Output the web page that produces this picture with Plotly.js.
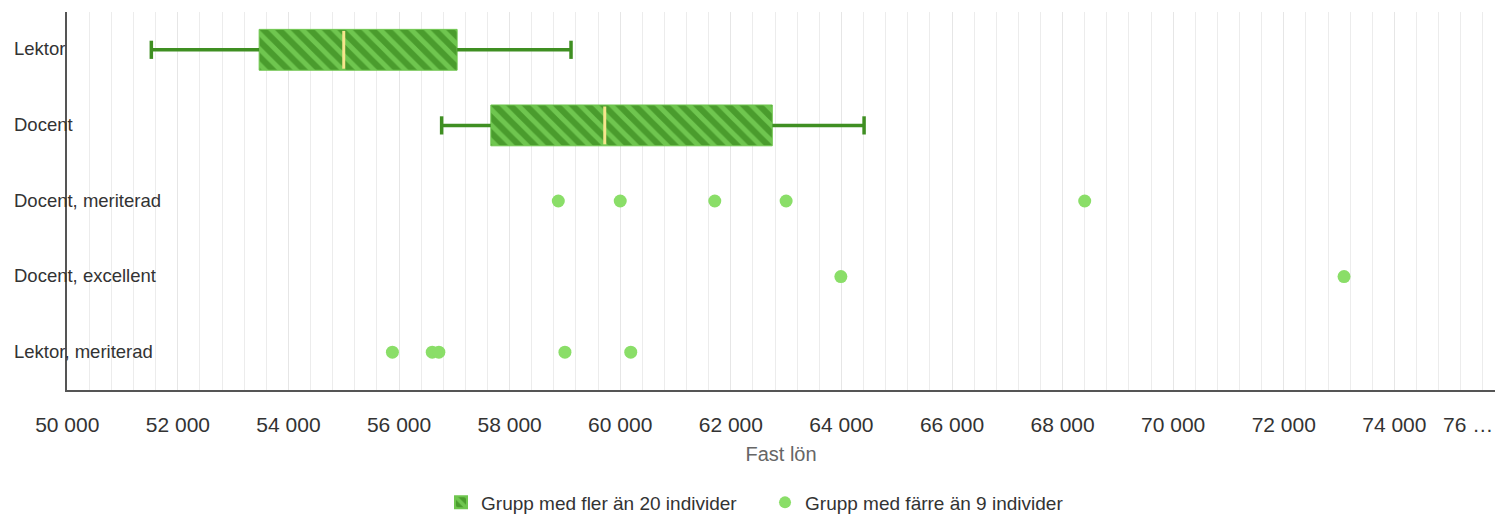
<!DOCTYPE html>
<html>
<head>
<meta charset="utf-8">
<script src="https://cdn.plot.ly/plotly-3.0.1.min.js"></script>
<style>html,body{margin:0;padding:0;background:#fff;}#chart{width:1495px;height:517px;}</style>
</head>
<body>
<div id="chart"></div>
<script>
// Categories (top to bottom)
const categories = ['Lektor', 'Docent', 'Docent, meriterad', 'Docent, excellent', 'Lektor, meriterad'];

// Box groups (more than 20 individuals)
const boxCategories = ['Lektor', 'Docent'];
const boxLow    = [51520, 56770];
const boxQ1     = [53470, 57660];
const boxMedian = [55000, 59720];
const boxQ3     = [57050, 62750];
const boxHigh   = [59110, 64410];

// Individual points (fewer than 9 individuals)
const docentMeriterad  = [58880, 60000, 61710, 63000, 68400];
const docentExcellent  = [63990, 73090];
const lektorMeriterad  = [55880, 56600, 56720, 59000, 60190];

// X-axis ticks
const tickValues = [50000, 52000, 54000, 56000, 58000, 60000, 62000, 64000, 66000, 68000, 70000, 72000, 74000];
const tickLabels = ['50 000', '52 000', '54 000', '56 000', '58 000', '60 000', '62 000', '64 000', '66 000', '68 000', '70 000', '72 000', '74 000'];
const lastTickLabel = '76 …';

const darkGreen = '#4a9c2d';
const lightGreen = '#6fc64f';
const whiskerGreen = '#3f8f22';
const medianYellow = '#f6e58d';
const pointGreen = '#8ade68';

// whisker segments built from data
const wx = [], wy = [];
boxCategories.forEach((c, i) => {
  wx.push(boxLow[i], boxQ1[i], null, boxQ3[i], boxHigh[i], null);
  wy.push(c, c, null, c, c, null);
});

const pointsX = [].concat(docentMeriterad, docentExcellent, lektorMeriterad);
const pointsY = [].concat(
  docentMeriterad.map(() => 'Docent, meriterad'),
  docentExcellent.map(() => 'Docent, excellent'),
  lektorMeriterad.map(() => 'Lektor, meriterad')
);

const traces = [
  {
    type: 'bar', orientation: 'h', name: 'Grupp med fler än 20 individer',
    y: boxCategories, base: boxQ1, x: boxQ3.map((v, i) => v - boxQ1[i]),
    width: 0.54,
    marker: {
      color: darkGreen,
      line: {color: lightGreen, width: 1},
      pattern: {shape: '\\', fgcolor: lightGreen, bgcolor: darkGreen, fillmode: 'replace', size: 11, solidity: 0.45}
    },
    hoverinfo: 'skip'
  },
  {
    type: 'scatter', mode: 'lines', x: wx, y: wy, showlegend: false,
    line: {color: whiskerGreen, width: 3.5}, hoverinfo: 'skip'
  },
  {
    type: 'scatter', mode: 'markers', showlegend: false, hoverinfo: 'skip',
    x: boxLow.concat(boxHigh), y: boxCategories.concat(boxCategories),
    marker: {symbol: 'line-ns', size: 13, line: {color: whiskerGreen, width: 3.5}}
  },
  {
    type: 'scatter', mode: 'markers', showlegend: false, hoverinfo: 'skip',
    x: boxMedian, y: boxCategories,
    marker: {symbol: 'line-ns', size: 27, line: {color: medianYellow, width: 3}}
  },
  {
    type: 'scatter', mode: 'markers', name: 'Grupp med färre än 9 individer',
    x: pointsX, y: pointsY,
    marker: {color: pointGreen, size: 13}
  }
];

// category labels drawn left-aligned over the axis, as in the reference
const categoryAnnotations = categories.map(c => ({
  xref: 'paper', yref: 'y', x: 0, y: c, xanchor: 'left', yanchor: 'middle',
  xshift: -55, yshift: 1, text: c, showarrow: false,
  font: {size: 18.5, color: '#333'}
}));

const layout = {
  width: 1495, height: 517,
  margin: {l: 67, r: 0, t: 12, b: 127, autoexpand: false},
  paper_bgcolor: '#fff', plot_bgcolor: '#fff',
  font: {family: '"Liberation Sans", Arial, sans-serif', color: '#333'},
  separators: ', ',
  showlegend: true,
  legend: {
    orientation: 'h', xref: 'container', x: 0.295, xanchor: 'left',
    yref: 'container', y: 0.028, yanchor: 'middle',
    font: {size: 19, color: '#333'}, itemsizing: 'constant',
    entrywidth: 279, entrywidthmode: 'pixels'
  },
  xaxis: {
    range: [49995, 75820],
    tickvals: tickValues, ticktext: tickLabels,
    tickfont: {size: 21, color: '#333'},
    ticks: '', ticklabelstandoff: 15,
    showgrid: true, gridcolor: '#e6e6e6', gridwidth: 1,
    minor: {dtick: 400, tick0: 50000, showgrid: true, gridcolor: '#ececec', gridwidth: 1},
    showline: true, linecolor: '#555', linewidth: 2,
    zeroline: false,
    title: {text: 'Fast lön', font: {size: 20, color: '#666'}, standoff: 12}
  },
  yaxis: {
    type: 'category', categoryorder: 'array', categoryarray: categories,
    range: [4.5, -0.5],
    showgrid: false, zeroline: false,
    showline: true, linecolor: '#555', linewidth: 2,
    ticks: '', showticklabels: false
  },
  annotations: categoryAnnotations.concat([{
    xref: 'paper', yref: 'paper', x: 1, y: 0, xanchor: 'right', yanchor: 'middle',
    yshift: -34, text: lastTickLabel, showarrow: false,
    font: {size: 21, color: '#333'}
  }])
};

Plotly.newPlot('chart', traces, layout, {displayModeBar: false, staticPlot: true});
</script>
</body>
</html>
